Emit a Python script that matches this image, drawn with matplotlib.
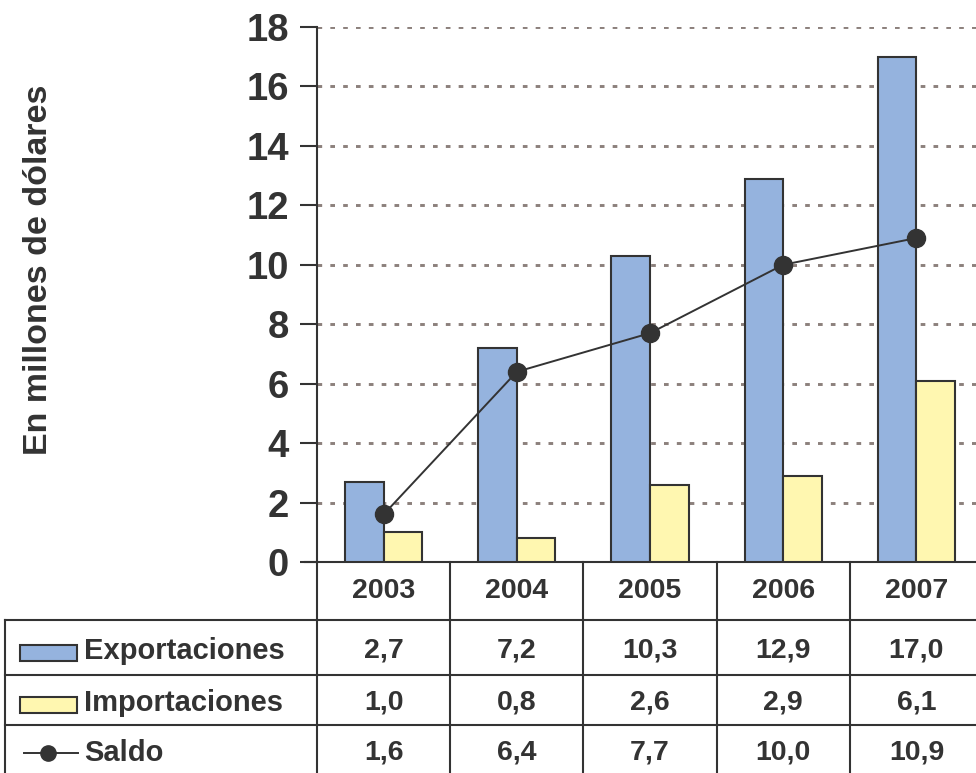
import matplotlib
matplotlib.use("Agg")
import matplotlib.pyplot as plt
from matplotlib.patches import Rectangle
from matplotlib.lines import Line2D

years = ["2003", "2004", "2005", "2006", "2007"]
exportaciones = [2.7, 7.2, 10.3, 12.9, 17.0]
importaciones = [1.0, 0.8, 2.6, 2.9, 6.1]
saldo = [1.6, 6.4, 7.7, 10.0, 10.9]
yticks = [0, 2, 4, 6, 8, 10, 12, 14, 16, 18]

blue = "#95b3de"
yellow = "#fff7b0"
dark = "#333333"
grid_c = "#8c807c"
W, H = 976, 773

plt.rcParams['font.family'] = ['Liberation Sans', 'DejaVu Sans']
tfont = ['Liberation Sans', 'DejaVu Sans']

fig = plt.figure(figsize=(W / 100, H / 100), dpi=100)
# axes box in pixels: left 317, right 983 (past the edge), top 27, bottom 562
ax_l, ax_r, ax_t, ax_b = 317, 983, 27, 562
ax = fig.add_axes([ax_l / W, (H - ax_b) / H, (ax_r - ax_l) / W, (ax_b - ax_t) / H])

x = list(range(len(years)))
bw = 0.29
ax.bar([i - bw / 2 for i in x], exportaciones, width=bw, color=blue,
       edgecolor=dark, linewidth=1.5, zorder=3)
ax.bar([i + bw / 2 for i in x], importaciones, width=bw, color=yellow,
       edgecolor=dark, linewidth=1.5, zorder=3)
ax.plot(x, saldo, color=dark, linewidth=1.4, marker="o", markersize=13,
        markerfacecolor=dark, markeredgecolor=dark, zorder=4)

ax.set_xlim(-0.5, len(years) - 0.5)
ax.set_ylim(0, 18)
ax.set_yticks(yticks)
ax.set_yticklabels([str(v) for v in yticks], fontsize=27.5, fontweight="bold", color=dark)
ax.set_xticks([])
ax.tick_params(axis="y", length=12, width=1.5, color=dark, pad=8)
ax.yaxis.grid(True, linestyle=(0, (1.6, 2.8)), color=grid_c, linewidth=2.1, zorder=1)
for s in ["top", "right"]:
    ax.spines[s].set_visible(False)
ax.spines["left"].set_color(dark)
ax.spines["left"].set_linewidth(1.5)
ax.spines["bottom"].set_color(dark)
ax.spines["bottom"].set_linewidth(1.5)

fig.text(39 / W, 1 - 270 / H, "En millones de dólares", rotation=90,
         fontsize=24.5, fontweight="bold", color=dark, ha="center", va="center")

# data table below the axes, drawn in figure pixel coords
def fx(px):
    return px / W

def fy(py):
    return 1 - py / H

cell_w = (ax_r - ax_l) / len(years)
row_lines = [620, 675, 725]
lw = 1.5
# left axis line continues through the table
fig.add_artist(Line2D([fx(ax_l)] * 2, [fy(ax_b), fy(H + 5)], color=dark, lw=lw))
for i in range(1, len(years) + 1):
    xx = ax_l + i * cell_w
    fig.add_artist(Line2D([fx(xx)] * 2, [fy(ax_b), fy(H + 5)], color=dark, lw=lw))
for ry in row_lines:
    fig.add_artist(Line2D([fx(5), fx(W + 10)], [fy(ry)] * 2, color=dark, lw=lw))
fig.add_artist(Line2D([fx(5)] * 2, [fy(row_lines[0]), fy(H + 5)], color=dark, lw=lw))
# x tick at 0 extends left
fig.add_artist(Line2D([fx(305), fx(ax_l)], [fy(ax_b)] * 2, color=dark, lw=lw))

row_centers = [591, 651, 703, 753]
for i, yr in enumerate(years):
    cx = ax_l + (i + 0.5) * cell_w
    fig.text(fx(cx), fy(row_centers[0]), yr, family=tfont, fontsize=20.5,
             fontweight="bold", color=dark, ha="center", va="center")
    for r, series in enumerate([exportaciones, importaciones, saldo]):
        lbl = f"{series[i]:.1f}".replace(".", ",")
        fig.text(fx(cx), fy(row_centers[r + 1]), lbl, family=tfont, fontsize=20.5,
                 fontweight="bold", color=dark, ha="center", va="center")

names = ["Exportaciones", "Importaciones", "Saldo"]
for r, name in enumerate(names):
    cy = row_centers[r + 1]
    fig.text(fx(84), fy(cy), name, family=tfont, fontsize=21,
             fontweight="bold", color=dark, ha="left", va="center")
fig.add_artist(Rectangle((fx(20), fy(661)), (77 - 20) / W, 16 / H, facecolor=blue,
                         edgecolor=dark, lw=1.5))
fig.add_artist(Rectangle((fx(20), fy(713)), (77 - 20) / W, 16 / H, facecolor=yellow,
                         edgecolor=dark, lw=1.5))
fig.add_artist(Line2D([fx(24), fx(78)], [fy(753)] * 2, color=dark, lw=1.4))
fig.add_artist(Line2D([fx(48)], [fy(753)], color=dark, marker="o", markersize=11))

fig.savefig("out.png", dpi=100)
